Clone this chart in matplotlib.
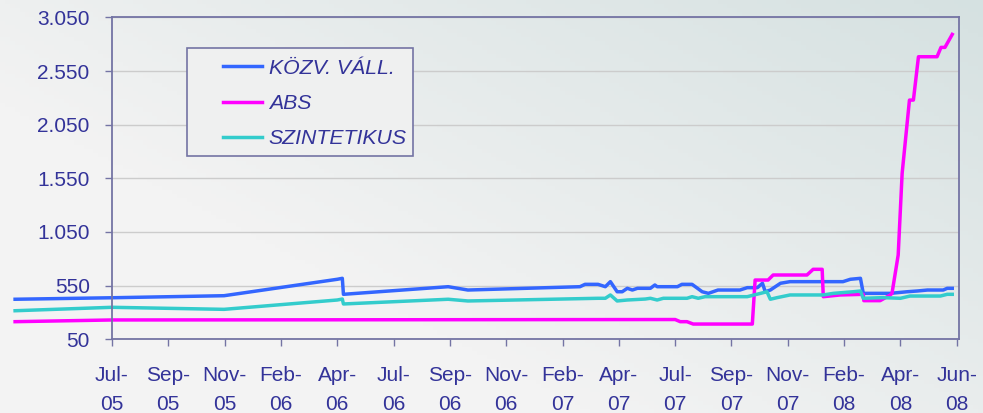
import numpy as np
import matplotlib.pyplot as plt
from matplotlib.patches import Rectangle
from matplotlib.ticker import FuncFormatter

# category axis: one slot per tick label, positions of points measured in slots
tick_labels = ['Jul-\n05', 'Sep-\n05', 'Nov-\n05', 'Feb-\n06', 'Apr-\n06', 'Jul-\n06',
               'Sep-\n06', 'Nov-\n06', 'Feb-\n07', 'Apr-\n07', 'Jul-\n07', 'Sep-\n07',
               'Nov-\n07', 'Feb-\n08', 'Apr-\n08', 'Jun-\n08']

kozv_x = [-1.72, 0, 1.99, 4.0, 4.09, 4.11, 5.97, 6.32, 8.31, 8.40, 8.63, 8.76, 8.85,
          8.97, 9.06, 9.15, 9.24, 9.33, 9.56, 9.64, 9.68, 10.04, 10.12, 10.30, 10.48,
          10.59, 10.76, 11.15, 11.28, 11.46, 11.55, 11.60, 11.69, 11.87, 12.04, 12.98,
          13.11, 13.29, 13.34, 13.82, 14.12, 14.30, 14.48, 14.76, 14.83, 14.92]
kozv_y = [423, 437, 456, 609, 618, 469, 540, 509, 540, 562, 562, 540, 587,
          493, 493, 525, 509, 525, 525, 556, 540, 540, 562, 562, 493,
          478, 509, 509, 531, 531, 572, 493, 509, 572, 587, 587,
          609, 618, 478, 478, 493, 500, 509, 509, 525, 525]

abs_x = [-1.72, 0, 10.0, 10.09, 10.21, 10.32, 11.37, 11.42, 11.65, 11.74, 12.34, 12.45,
         12.61, 12.63, 12.93, 13.34, 13.35, 13.64, 13.82, 13.85, 13.96, 14.03, 14.16,
         14.23, 14.32, 14.65, 14.72, 14.79, 14.92]
abs_y = [214, 230, 234, 214, 214, 192, 192, 602, 602, 649, 649, 702,
         702, 447, 463, 469, 410, 410, 463, 478, 835, 1596, 2279,
         2279, 2683, 2683, 2770, 2770, 2891]

szint_x = [-1.72, 0, 1.99, 4.0, 4.09, 4.11, 5.97, 6.32, 8.63, 8.76, 8.85, 8.97, 9.15,
           9.47, 9.56, 9.68, 9.79, 10.21, 10.30, 10.41, 10.53, 11.28, 11.63, 11.69,
           11.81, 12.04, 12.63, 12.81, 13.16, 13.29, 13.34, 13.69, 14.0, 14.17, 14.71,
           14.83, 14.92]
szint_y = [316, 348, 329, 416, 425, 379, 423, 407, 432, 432, 463, 407, 416,
           425, 432, 416, 432, 432, 447, 432, 447, 447, 493, 423,
           438, 463, 463, 478, 493, 500, 432, 438, 432, 453, 453,
           469, 469]

txt = '#333399'
axc = '#7474A4'
plt.rcParams['font.family'] = ['Liberation Sans', 'DejaVu Sans']

fig = plt.figure(figsize=(9.83, 4.13), dpi=100)

# light grey background turning slightly teal toward the top right
bg = fig.add_axes([0, 0, 1, 1], zorder=-10)
gx, gy = np.meshgrid(np.linspace(0, 1, 200), np.linspace(1, 0, 100))
w = np.clip(0.75 * gx + 0.6 * gy - 0.45, 0, 1)[..., None]
c0 = np.array([243, 243, 243]) / 255
c1 = np.array([210, 223, 223]) / 255
bg.imshow(c0 * (1 - w) + c1 * w, aspect='auto', extent=[0, 1, 0, 1])
bg.axis('off')

ax = fig.add_axes([0.1139, 0.1785, 0.8617, 0.7795])
ax.set_facecolor('none')

ax.plot(kozv_x, kozv_y, color='#3366FF', lw=2.5, label='KÖZV. VÁLL.', clip_on=False)
ax.plot(abs_x, abs_y, color='#FF00FF', lw=2.5, label='ABS', clip_on=False)
ax.plot(szint_x, szint_y, color='#33CCCC', lw=2.5, label='SZINTETIKUS', clip_on=False)

ax.set_xlim(0, 15.04)
ax.set_ylim(50, 3050)
ax.set_yticks(np.arange(50, 3051, 500))
ax.yaxis.set_major_formatter(FuncFormatter(lambda v, p: f'{int(v):,}'.replace(',', '.')))
ax.set_xticks(range(len(tick_labels)))
ax.set_xticklabels(tick_labels, linespacing=1.7)

ax.grid(axis='y', color='#CCCCCC', lw=1.0)
ax.set_axisbelow(True)
for s in ax.spines.values():
    s.set_color(axc)
    s.set_linewidth(1.3)
ax.tick_params(colors=axc, labelcolor=txt, labelsize=15, length=5, width=1.0)
ax.tick_params(axis='x', pad=14)
ax.tick_params(axis='y', pad=11)

# legend box drawn separately so the wide left margin can be kept
ax.add_patch(Rectangle((0.0885, 0.5693), 0.2665, 0.3354, transform=ax.transAxes,
                       facecolor='#EFF0F0', edgecolor=axc, lw=1.2, zorder=4))
leg = ax.legend(loc='upper left', bbox_to_anchor=(0.131, 0.871), prop={'size': 15.3, 'style': 'italic'},
                frameon=False, handlelength=1.85, handletextpad=0.3, labelspacing=0.76,
                borderpad=0, borderaxespad=0)
leg.set_zorder(5)
for t in leg.get_texts():
    t.set_color(txt)

fig.savefig('out.png', dpi=100, facecolor=fig.get_facecolor())
